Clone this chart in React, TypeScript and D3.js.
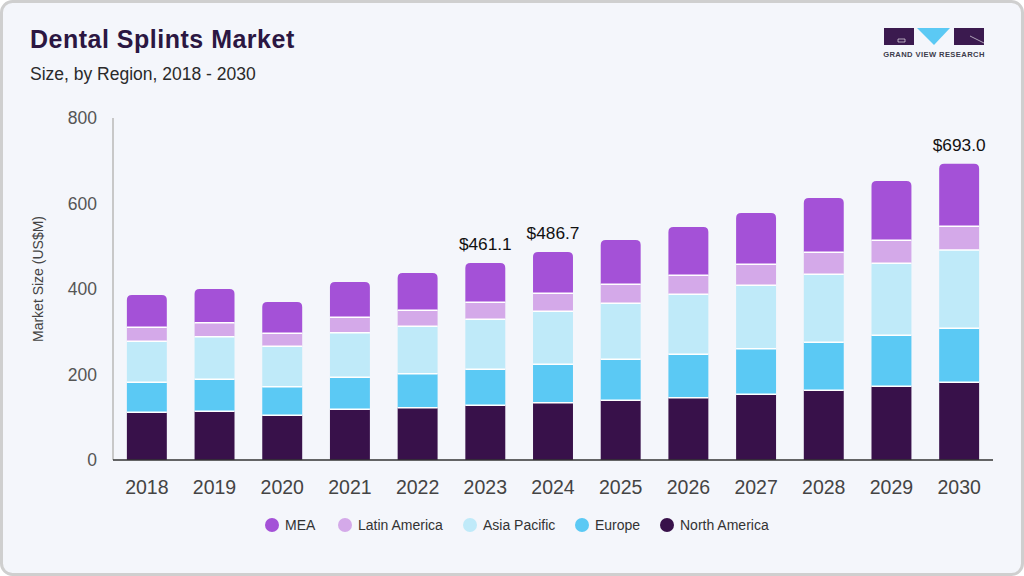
import * as d3 from 'd3';

const years = ['2018', '2019', '2020', '2021', '2022', '2023', '2024', '2025', '2026', '2027', '2028', '2029', '2030'];
const northAmerica = [111.6, 113.9, 104.6, 118.6, 122.3, 128.0, 134.0, 139.6, 145.7, 153.7, 163.0, 172.4, 181.8];
const europe = [70.0, 74.9, 66.9, 74.8, 79.6, 84.2, 89.9, 96.0, 101.6, 106.7, 112.3, 119.3, 126.3];
const asiaPacific = [96.0, 99.6, 94.5, 104.4, 110.8, 116.9, 123.9, 130.9, 140.3, 148.2, 159.1, 168.4, 183.1];
const latinAmerica = [32.7, 32.8, 30.4, 36.0, 37.5, 39.8, 42.1, 44.5, 44.4, 49.2, 51.4, 53.8, 55.5];
const mea = [75.6, 78.8, 73.2, 82.6, 87.2, 92.2, 96.8, 103.6, 113.0, 120.0, 127.1, 138.7, 146.3];
const yTicks = [0, 200, 400, 600, 800];
const labelled: Record<string, string> = { '2023': '$461.1', '2024': '$486.7', '2030': '$693.0' };

// bottom to top stacking order
const series = [
  { name: 'North America', values: northAmerica, color: '#38114a' },
  { name: 'Europe', values: europe, color: '#5bc9f4' },
  { name: 'Asia Pacific', values: asiaPacific, color: '#bfeaf9' },
  { name: 'Latin America', values: latinAmerica, color: '#d4a9e9' },
  { name: 'MEA', values: mea, color: '#a451d7' },
];

const W = 1024;
const H = 576;
const plot = { left: 113, right: 993, top: 118, bottom: 460 };
const font = 'Liberation Sans, Arial, Helvetica, sans-serif';

function topRounded(x: number, y: number, w: number, h: number, r: number) {
  const rr = Math.min(r, h);
  return `M${x},${y + h}V${y + rr}Q${x},${y} ${x + rr},${y}H${x + w - rr}Q${x + w},${y} ${x + w},${y + rr}V${y + h}Z`;
}

export default function App() {
  const x = d3.scaleBand<string>().domain(years).range([plot.left, plot.right]).paddingInner(0.41).paddingOuter(0.205);
  const y = d3.scaleLinear().domain([0, 800]).range([plot.bottom, plot.top]);

  const rows = years.map((yr, i) => {
    const r: any = { year: yr };
    series.forEach((s) => (r[s.name] = s.values[i]));
    return r;
  });
  const stacked = d3.stack().keys(series.map((s) => s.name))(rows);

  const legendOrder = [...series].reverse();
  const legendX = [272, 345, 470, 582, 667];

  return (
    <div style={{ position: 'fixed', left: 0, top: 0 }}>
      <svg width={W} height={H} style={{ display: 'block', fontFamily: font }}>
        <rect x={0} y={0} width={W} height={H} fill="#ffffff" />
        <rect x={1.5} y={1.5} width={W - 3} height={H - 3} rx={11} fill="#f4f6fb" stroke="#cfcfcf" strokeWidth={3} />

        <text x={30} y={48} fontSize={25} fontWeight={700} fill="#2b1742" letterSpacing={0.5}>Dental Splints Market</text>
        <text x={30} y={80} fontSize={17.5} fill="#2a2a2a">Size, by Region, 2018 - 2030</text>

        {/* logo */}
        <g>
          <rect x={884} y={28} width={30} height={17} fill="#3b1a4f" />
          <path d="M898,39 H905 V42 H898 Z" fill="none" stroke="#fff" strokeWidth={0.6} />
          <path d="M917,28 L950,28 L934,45 Z" fill="#5bc9f4" />
          <rect x={954} y={28} width={30} height={17} fill="#3b1a4f" />
          <path d="M970,36 L984,43" stroke="#fff" strokeWidth={0.6} />
          <text x={934} y={57} fontSize={7.6} fontWeight={700} fill="#3c3c4c" textAnchor="middle" letterSpacing={0.4}>GRAND VIEW RESEARCH</text>
        </g>

        {/* y axis */}
        <line x1={plot.left} x2={plot.left} y1={plot.top} y2={plot.bottom} stroke="#c8c8c8" strokeWidth={2} />
        {yTicks.map((t) => (
          <text key={t} x={97} y={y(t) + 6} fontSize={17.5} fill="#555" textAnchor="end">{t}</text>
        ))}
        <text transform={`translate(43,279) rotate(-90)`} fontSize={14} fill="#444" textAnchor="middle">Market Size (US$M)</text>

        {/* bars */}
        {stacked.map((layer, li) => (
          <g key={layer.key}>
            {layer.map((d, i) => {
              const x0 = x(years[i])!;
              const y0 = y(d[1]);
              const h = y(d[0]) - y(d[1]);
              const isTop = li === stacked.length - 1;
              return isTop ? (
                <path key={i} d={topRounded(x0, y0, x.bandwidth(), h, 5)} fill={series[li].color} />
              ) : (
                <rect key={i} x={x0} y={y0} width={x.bandwidth()} height={h} fill={series[li].color} />
              );
            })}
          </g>
        ))}
        {/* white separators */}
        {stacked.slice(0, -1).map((layer) => (
          <g key={'sep' + layer.key}>
            {layer.map((d, i) => (
              <line key={i} x1={x(years[i])!} x2={x(years[i])! + x.bandwidth()} y1={y(d[1])} y2={y(d[1])} stroke="#ffffff" strokeWidth={1.5} />
            ))}
          </g>
        ))}

        {/* totals */}
        {years.map((yr, i) =>
          labelled[yr] ? (
            <text key={yr} x={x(yr)! + x.bandwidth() / 2} y={y(stacked[stacked.length - 1][i][1]) - 13} fontSize={17.3} fill="#111" textAnchor="middle">
              {labelled[yr]}
            </text>
          ) : null,
        )}

        {/* x axis */}
        <line x1={plot.left} x2={plot.right} y1={plot.bottom} y2={plot.bottom} stroke="#333" strokeWidth={1.5} />
        {years.map((yr) => (
          <text key={yr} x={x(yr)! + x.bandwidth() / 2} y={494} fontSize={19.5} fill="#444" textAnchor="middle">{yr}</text>
        ))}

        {/* legend */}
        {legendOrder.map((s, i) => (
          <g key={s.name}>
            <circle cx={legendX[i]} cy={525} r={7} fill={s.color} />
            <text x={legendX[i] + 13} y={530} fontSize={14} fill="#333">{s.name}</text>
          </g>
        ))}
      </svg>
    </div>
  );
}
